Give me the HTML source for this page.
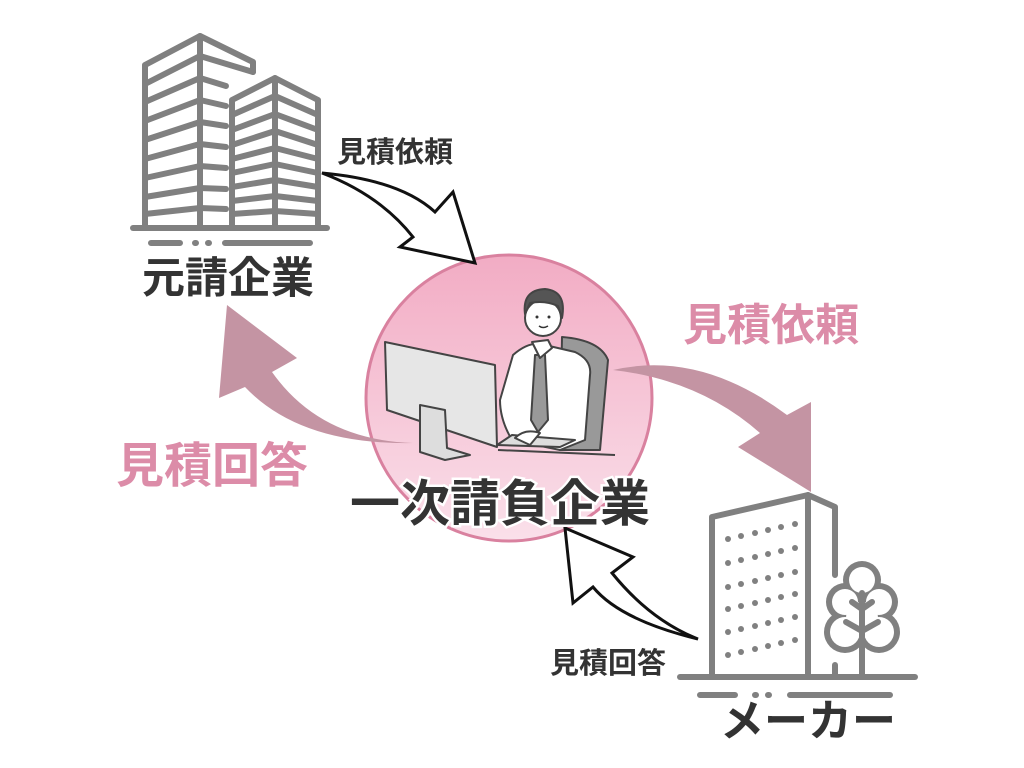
<!DOCTYPE html>
<html><head><meta charset="utf-8"><style>
html,body{margin:0;padding:0;background:#fff;}
svg{display:block}
text{font-family:"Liberation Sans","Noto Sans CJK JP",sans-serif;font-weight:bold;}
</style></head><body>
<svg width="1024" height="768" viewBox="0 0 1024 768" xmlns="http://www.w3.org/2000/svg">
<defs>
<linearGradient id="cg" x1="0" y1="0" x2="0" y2="1">
<stop offset="0" stop-color="#f2acc4"/><stop offset="1" stop-color="#fae0ea"/>
</linearGradient>
</defs>
<circle cx="509" cy="398" r="143" fill="url(#cg)" stroke="#d9819f" stroke-width="3"/>

<g fill="none" stroke="#808080" stroke-width="6" stroke-linecap="round" stroke-linejoin="round">
<path d="M145,228 V65 L200,36 L253,62 V72"/>
<path d="M200,36 V228"/>
<path d="M145,84 L200,56 L253,72"/>
<path d="M145,102 L200,78 L226,86"/>
<path d="M145,121 L200,100 L226,106"/>
<path d="M145,140 L200,122 L226,126"/>
<path d="M145,159 L200,144 L226,147"/>
<path d="M145,178 L200,166 L226,168"/>
<path d="M145,197 L200,188 L226,189"/>
<path d="M145,214 L200,208 L226,209"/>
<path d="M232,228 V100 L275,78 L318,100 V228"/>
<path d="M275,78 V228"/>
<path d="M232,115 L275,96 L318,115"/>
<path d="M232,130 L275,114 L318,130"/>
<path d="M232,145 L275,131 L318,145"/>
<path d="M232,159 L275,148 L318,159"/>
<path d="M232,173 L275,164 L318,173"/>
<path d="M232,187 L275,180 L318,187"/>
<path d="M232,201 L275,196 L318,201"/>
<path d="M232,214 L275,211 L318,214"/>
<path d="M133,228 H327"/>
<path d="M151,243 H180 M195,243 H196 M208,243 H209 M225,243 H310"/>
</g>
<text x="142" y="293" font-size="43" fill="#333">元請企業</text>
<text x="337" y="162" font-size="29" fill="#333">見積依頼</text>

<path d="M322,173 Q400,180 435,212 L453,192 L475,263 L400,247 L413,237 Q380,195 322,173 Z" fill="#fff" stroke="#111" stroke-width="3"/>
<path d="M565,528 L633,557 L612,573 Q650,620 698,639 Q620,620 593,587 L573,603 Z" fill="#fff" stroke="#111" stroke-width="3"/>

<path d="M613,370 Q700,350 787,415 L811,402 L811,492 L738,447 L760,433 Q700,380 613,370 Z" fill="#c494a3"/>
<path d="M227,305 L297,358 L272,372 Q320,440 413,443 Q300,445 245,387 L219,398 Z" fill="#c494a3"/>
<text x="683" y="340" font-size="44" fill="#dc8ca8">見積依頼</text>
<text x="116" y="482" font-size="48" fill="#dc8ca8">見積回答</text>

<g stroke="#444" stroke-width="2" stroke-linejoin="round">
<path d="M562,337 Q600,340 608,360 L600,450 L560,450 Z" fill="#999"/>
<path d="M513,355 Q530,340 545,345 L575,352 Q592,360 590,375 L585,440 L560,450 L512,440 Q500,420 500,400 Z" fill="#fff"/>
<path d="M535,355 L545,355 L548,420 L538,432 L531,420 Z" fill="#999"/>
<path d="M532,342 L540,358 L552,348 L548,340 Z" fill="#fff"/>
<circle cx="543" cy="318" r="18" fill="#fff"/>
<path d="M525,314 Q522,290 545,289 Q567,291 562,318 L558,306 Q545,300 530,303 Z" fill="#555"/>
<path d="M497,445 L560,447 L575,440 L512,435 Z" fill="#ddd"/>
<path d="M385,342 L495,365 L497,447 L387,410 Z" fill="#e6e6e6"/>
<path d="M420,405 L445,410 L447,448 L470,455 L445,460 L420,452 Z" fill="#ddd"/>
<path d="M498,450 L615,455" fill="none"/>
<path d="M540,433 Q525,428 515,438 L530,445 Z" fill="#fff"/>
</g>
<circle cx="537" cy="317" r="1.5" fill="#333"/><circle cx="549" cy="317" r="1.5" fill="#333"/>
<path d="M539,326 Q543,329 548,326" fill="none" stroke="#333" stroke-width="1.5"/>
<text x="350" y="521" font-size="50" fill="#333" stroke="#fff" stroke-width="5" paint-order="stroke">一次請負企業</text>

<g fill="none" stroke="#808080" stroke-width="6" stroke-linecap="round" stroke-linejoin="round">
<path d="M712,677 V517 L808,495 L835,507 V575"/>
<path d="M808,495 V677"/>
<path d="M835,665 V677"/>
<path d="M680,677 H915"/>
<path d="M700,695 H735 M755,695 H756 M768,695 H769 M790,695 H890"/>
</g>
<g fill="#808080">
<g id="row"><circle cx="728" cy="539" r="3"/><circle cx="741" cy="536" r="3"/><circle cx="755" cy="533" r="3"/><circle cx="768" cy="530" r="3"/><circle cx="781" cy="527" r="3"/><circle cx="795" cy="524" r="3"/></g>
<use href="#row" y="24"/><use href="#row" y="48"/><use href="#row" y="70"/><use href="#row" y="93"/><use href="#row" y="116"/>
</g>
<g fill="#808080">
<circle cx="862" cy="580" r="19"/><circle cx="845" cy="602" r="19"/><circle cx="879" cy="602" r="19"/>
<circle cx="845" cy="632" r="21"/><circle cx="879" cy="632" r="21"/><circle cx="862" cy="618" r="22"/>
</g>
<g fill="#fff">
<circle cx="862" cy="580" r="13"/><circle cx="845" cy="602" r="13"/><circle cx="879" cy="602" r="13"/>
<circle cx="845" cy="632" r="15"/><circle cx="879" cy="632" r="15"/><circle cx="862" cy="618" r="16"/>
</g>
<g fill="none" stroke="#808080" stroke-width="6" stroke-linecap="round" stroke-linejoin="round">
<path d="M862,593 V677"/>
<path d="M852,602 L862,609 L872,602"/>
<path d="M846,622 L862,631 L878,622"/>
</g>
<text x="550" y="673" font-size="29" fill="#333">見積回答</text>
<text x="720" y="736" font-size="44" fill="#333">メーカー</text>
</svg>
</body></html>
